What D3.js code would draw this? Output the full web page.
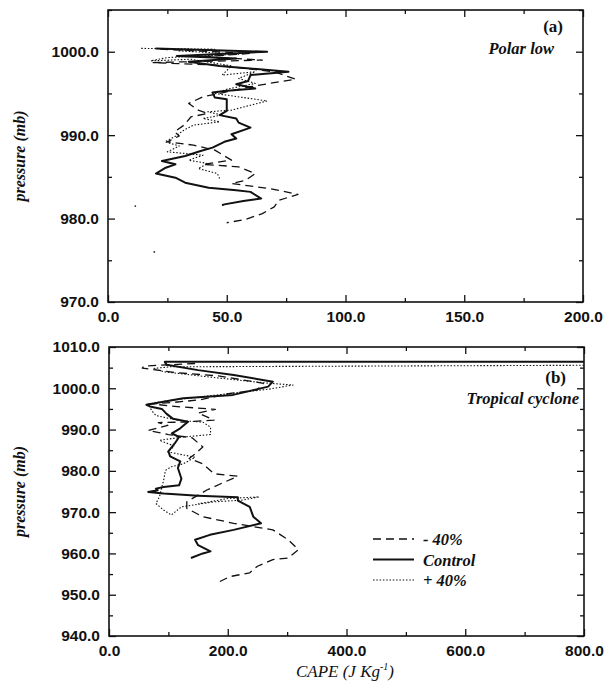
<html>
	<head>
		<meta charset="utf-8">
		<title>CAPE vs pressure</title>
		<script src="https://d3js.org/d3.v7.min.js"></script>
		<style>
			body { margin: 0; background: #fff; }
			.tick text { font-family: "Liberation Sans", Arial, sans-serif; font-size: 15.5px; font-weight: bold; fill: #111; }
			.lbl { font-family: "Liberation Serif", "Times New Roman", serif; font-style: italic; font-weight: bold; font-size: 16px; fill: #111; }
		</style>
	</head>
	<body>
	<div id="chart"></div>
	<script type="text/javascript">
		// ---- data: [CAPE, pressure] ----
		// (a) polar low
		var ctrlA = [[20,1000.4],[67,1000.0],[29,999.5],[54,999.2],[34,998.8],[47,998.3],[76,997.6],[60,997.2],[59,996.5],[54,996.1],[62,995.6],[49,995.3],[44,995.1],[45,994.5],[50,994.3],[50,992.9],[47,992.4],[54,992.0],[55,991.5],[60,990.9],[52,990.1],[54,989.6],[49,989.2],[44,988.5],[39,988.1],[32.5,987.5],[27.6,987.2],[22.7,986.9],[28.4,986.5],[24.3,986.1],[20.2,985.4],[28.4,984.9],[32.5,984.3],[42.4,983.7],[54,983.4],[60,983.2],[64.5,982.4],[57,982.1],[49,981.7],[48,981.6]];
		var dashA = [[22,1000.3],[60,999.8],[40,999.4],[65,999.0],[19,998.7],[45,998.4],[70,997.6],[79,996.7],[68,996.2],[60,995.8],[52,995.3],[40,994.6],[34,993.8],[38,993.0],[42,992.6],[35,992.2],[32,991.2],[28,990.4],[30,989.9],[25,989.2],[36,988.8],[45,988.2],[52,987.0],[40,986.5],[55,986.2],[62,985.4],[58,984.6],[52,984.2],[68,983.6],[80,982.9],[72,982.2],[70,981.4],[65,980.6],[58,979.9],[50,979.5]];
		var dotA = [[14,1000.4],[45,1000.3],[30,1000.1],[55,999.7],[25,999.3],[18,998.9],[35,999.1],[52,998.3],[48,997.2],[62,997.6],[55,996.8],[62,996.2],[50,995.5],[45,995.0],[67,994.1],[52,993.0],[42,992.8],[48,992.4],[40,992.0],[47,991.6],[36,991.2],[32,990.6],[28,989.8],[24,989.2],[30,988.7],[25,988.0],[40,987.6],[34,987.0],[42,986.6],[38,986.0],[46,985.4],[47,984.8]];
		var straysA = [[11.5,981.5],[19.5,976.0]];

		// (b) tropical cyclone
		var ctrlB = [[850,1006.4],[94,1006.4],[97,1005.7],[150,1004.4],[210,1003.2],[276,1001.6],[268,1000.4],[209,998.4],[125,997.6],[63,996.0],[69,995.6],[89,995.0],[97,993.8],[108,992.6],[133,991.9],[120,990.3],[106,989.1],[118,988.2],[111,986.7],[100,984.7],[103,983.5],[120,982.3],[116,980.7],[122,978.1],[118,976.5],[92,976.1],[79,975.7],[82,975.3],[66,974.9],[92,974.5],[150,974.0],[217,973.6],[217,972.8],[237,971.3],[243,968.9],[256,967.3],[210,965.7],[170,964.5],[145,963.3],[150,962.0],[171,960.5],[158,960.0],[138,958.9]];
		var dashB = [[145,1006.0],[59,1005.4],[56,1004.9],[112,1003.8],[184,1003.0],[260,1001.2],[249,999.6],[197,998.6],[153,997.2],[110,996.6],[72,996.2],[120,995.5],[179,994.9],[150,994.0],[177,992.3],[125,991.8],[83,991.7],[99,991.0],[66,989.8],[100,988.8],[140,988.0],[158,985.8],[145,984.1],[135,983.0],[158,981.7],[177,979.3],[217,978.7],[190,977.0],[164,975.3],[145,973.7],[131,972.5],[131,970.9],[158,968.9],[210,967.3],[276,965.7],[302,963.3],[319,960.9],[302,958.9],[276,958.5],[250,956.9],[237,955.3],[204,954.4],[181,952.8]];
		var dotB = [[850,1005.6],[103,1005.2],[75,1004.8],[92,1004.0],[177,1002.6],[256,1001.4],[289,1001.0],[310,1000.8],[270,999.8],[171,998.2],[99,997.0],[66,996.2],[72,994.6],[79,993.4],[118,992.2],[158,991.8],[171,990.6],[171,988.8],[125,988.2],[85,987.4],[110,986.0],[99,984.6],[145,983.3],[125,981.7],[105,981.0],[95,980.1],[92,977.7],[89,976.1],[85,973.7],[79,972.1],[92,970.5],[105,969.3],[122,971.3],[177,972.5],[224,972.9],[253,973.7],[200,973.3],[150,972.0]];

		var legendNames = ["- 40%", "Control", "+ 40%"];

		var styles = {
			dash: {w: 1.3, d: "8,5"},
			ctrl: {w: 2.0, d: null},
			dot:  {w: 1.1, d: "1.5,1.8"}
		};

		var svg = d3.select("#chart").append("svg")
			.attr("width", 613).attr("height", 682);
		svg.append("rect").attr("width", 613).attr("height", 682).attr("fill", "#fff");

		var fmt = d3.format(".1f");

		function panel(opt) {
			var x = d3.scaleLinear().domain(opt.xd).range([opt.left, opt.right]);
			var y = d3.scaleLinear().domain(opt.yd).range([opt.bottom, opt.top]);
			var g = svg.append("g");
			var clipId = "clip" + opt.id;
			g.append("clipPath").attr("id", clipId).append("rect")
				.attr("x", opt.left).attr("y", opt.top)
				.attr("width", opt.right - opt.left).attr("height", opt.bottom - opt.top);

			// major + minor ticks, inward on all four sides
			function axes(gen, tr, vals, size, labels) {
				var a = g.append("g").attr("transform", tr)
					.call(gen.tickValues(vals).tickSize(size).tickPadding(9)
						.tickFormat(labels ? fmt : ""));
				a.select(".domain").remove();
				a.selectAll("line").attr("stroke", "#111").attr("stroke-width", 1.3);
				return a;
			}
			var xMaj = d3.range(opt.xd[0], opt.xd[1] + 1e-6, opt.xstep);
			var xMin = d3.range(opt.xd[0] + opt.xstep / 2, opt.xd[1], opt.xstep);
			var yMaj = d3.range(opt.yd[0], opt.yd[1] + 1e-6, 10);
			var yMin = d3.range(opt.yd[0] + 5, opt.yd[1] + 1e-6, 10);

			axes(d3.axisBottom(x), "translate(0," + opt.bottom + ")", xMaj, -7, true);
			axes(d3.axisBottom(x), "translate(0," + opt.bottom + ")", xMin, -4, false);
			axes(d3.axisTop(x), "translate(0," + opt.top + ")", xMaj, -7, false);
			axes(d3.axisTop(x), "translate(0," + opt.top + ")", xMin, -4, false);
			axes(d3.axisLeft(y), "translate(" + opt.left + ",0)", yMaj, -7, true);
			axes(d3.axisLeft(y), "translate(" + opt.left + ",0)", yMin, -4, false);
			axes(d3.axisRight(y), "translate(" + opt.right + ",0)", yMaj, -7, false);
			axes(d3.axisRight(y), "translate(" + opt.right + ",0)", yMin, -4, false);

			g.append("rect")
				.attr("x", opt.left).attr("y", opt.top)
				.attr("width", opt.right - opt.left).attr("height", opt.bottom - opt.top)
				.attr("fill", "none").attr("stroke", "#111").attr("stroke-width", 1.6);

			var line = d3.line().x(function(d) { return x(d[0]); }).y(function(d) { return y(d[1]); });
			var lines = g.append("g").attr("clip-path", "url(#" + clipId + ")");
			opt.series.forEach(function(s) {
				lines.append("path").datum(s.data)
					.attr("fill", "none").attr("stroke", "#111")
					.attr("stroke-width", styles[s.style].w)
					.attr("stroke-dasharray", styles[s.style].d)
					.attr("stroke-linejoin", "round")
					.attr("d", line);
			});
			if (opt.strays) {
				lines.selectAll("circle.stray").data(opt.strays).enter().append("circle")
					.attr("cx", function(d) { return x(d[0]); })
					.attr("cy", function(d) { return y(d[1]); })
					.attr("r", 0.9).attr("fill", "#222");
			}

			// y label
			svg.append("text").attr("class", "lbl")
				.attr("transform", "translate(25," + ((opt.top + opt.bottom) / 2) + ") rotate(-90)")
				.attr("text-anchor", "middle")
				.style("font-size", "16px")
				.text("pressure (mb)");

			// panel tag and title
			svg.append("text").attr("class", "lbl").style("font-style", "normal")
				.attr("x", opt.right - opt.tagDx).attr("y", opt.tagY).attr("text-anchor", "end")
				.style("font-size", "17px").text(opt.tag);
			svg.append("text").attr("class", "lbl")
				.attr("x", opt.right - opt.titleDx).attr("y", opt.tagY + opt.gap).attr("text-anchor", "end")
				.style("font-size", "16.5px")
				.text(opt.title);

			return {x: x, y: y, g: g};
		}

		panel({
			id: "a", xd: [0, 200], yd: [970, 1005], xstep: 50,
			left: 108, right: 583, top: 10, bottom: 302,
			tag: "(a)", title: "Polar low", tagY: 32, gap: 22, tagDx: 20, titleDx: 29,
			series: [{data: dashA, style: "dash"}, {data: dotA, style: "dot"}, {data: ctrlA, style: "ctrl"}],
			strays: straysA
		});

		panel({
			id: "b", xd: [0, 800], yd: [940, 1010], xstep: 200,
			left: 109, right: 584, top: 347, bottom: 636,
			tag: "(b)", title: "Tropical cyclone", tagY: 383, gap: 21, tagDx: 18, titleDx: 5,
			series: [{data: dashB, style: "dash"}, {data: dotB, style: "dot"}, {data: ctrlB, style: "ctrl"}]
		});

		// legend inside panel (b)
		var legStyles = ["dash", "ctrl", "dot"];
		var leg = svg.append("g");
		legendNames.forEach(function(n, i) {
			var yy = 539 + i * 20.5;
			leg.append("line").attr("x1", 373).attr("x2", 414).attr("y1", yy).attr("y2", yy)
				.attr("stroke", "#111").attr("stroke-width", styles[legStyles[i]].w)
				.attr("stroke-dasharray", styles[legStyles[i]].d);
			leg.append("text").attr("class", "lbl").attr("x", 423).attr("y", yy + 6)
				.style("font-size", "16.5px").text(n);
		});

		// x label
		var xl = svg.append("text").attr("class", "lbl")
			.attr("x", 345).attr("y", 677).attr("text-anchor", "middle")
			.style("font-size", "17px").style("font-weight", "normal");
		xl.append("tspan").text("CAPE (J Kg");
		xl.append("tspan").attr("dy", -7).style("font-size", "10px").text("-1");
		xl.append("tspan").attr("dy", 7).text(")");
	</script>
	</body>
</html>
